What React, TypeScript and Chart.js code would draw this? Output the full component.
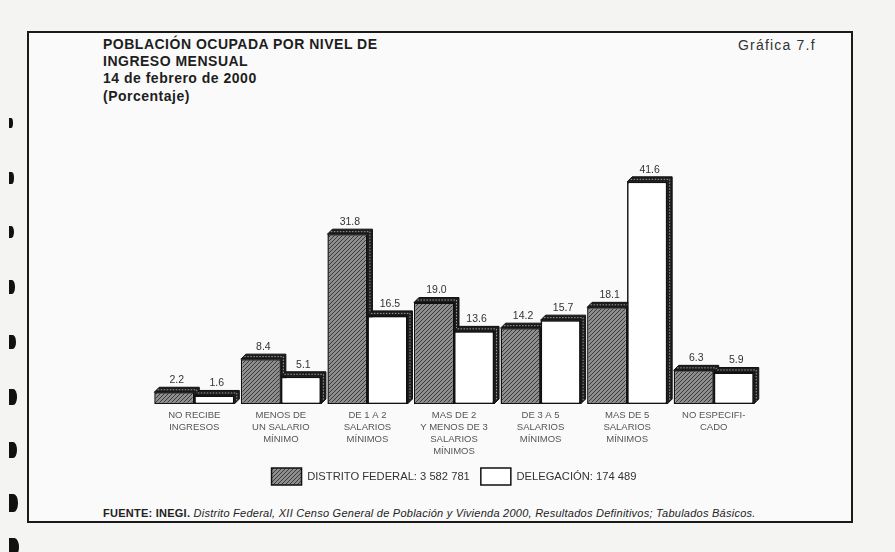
import React, { useEffect, useRef } from 'react';
import { Chart, registerables } from 'chart.js';

Chart.register(...registerables);

const categories: string[][] = [
  ['NO RECIBE', 'INGRESOS'],
  ['MENOS DE', 'UN SALARIO', 'MÍNIMO'],
  ['DE 1 A 2', 'SALARIOS', 'MÍNIMOS'],
  ['MAS DE 2', 'Y MENOS DE 3', 'SALARIOS', 'MÍNIMOS'],
  ['DE 3 A 5', 'SALARIOS', 'MÍNIMOS'],
  ['MAS DE 5', 'SALARIOS', 'MÍNIMOS'],
  ['NO ESPECIFI-', 'CADO'],
];
const distritoFederal = [2.2, 8.4, 31.8, 19.0, 14.2, 18.1, 6.3];
const delegacion = [1.6, 5.1, 16.5, 13.6, 15.7, 41.6, 5.9];
const seriesLabels = ['DISTRITO FEDERAL: 3 582 781', 'DELEGACIÓN: 174 489'];

const titleLines = ['POBLACIÓN OCUPADA POR NIVEL DE', 'INGRESO MENSUAL'];
const subtitleLines = ['14 de febrero de 2000', '(Porcentaje)'];
const holeYs = [123, 178, 232, 287, 342, 397, 450, 503, 547];

const FONT = '"Liberation Sans", Arial, Helvetica, sans-serif';
const DEPTH = 5;

function draw3D(ctx: CanvasRenderingContext2D, el: any) {
  const { x, y, base, width } = el.getProps(['x', 'y', 'base', 'width'], true);
  const l = x - width / 2;
  const r = x + width / 2;
  const t = Math.min(y, base);
  const b = Math.max(y, base);
  ctx.save();
  ctx.fillStyle = '#1c1c1c';
  ctx.strokeStyle = '#111';
  ctx.lineWidth = 1;
  ctx.beginPath();
  ctx.moveTo(l, t);
  ctx.lineTo(l + DEPTH, t - DEPTH);
  ctx.lineTo(r + DEPTH, t - DEPTH);
  ctx.lineTo(r + DEPTH, b - DEPTH);
  ctx.lineTo(r, b);
  ctx.lineTo(r, t);
  ctx.closePath();
  ctx.fill();
  ctx.stroke();
  ctx.strokeStyle = '#9c9c9c';
  ctx.setLineDash([1.5, 1.5]);
  ctx.beginPath();
  ctx.moveTo(l + DEPTH / 2 + 1, t - DEPTH / 2);
  ctx.lineTo(r + DEPTH / 2, t - DEPTH / 2);
  ctx.lineTo(r + DEPTH / 2, b - DEPTH / 2 - 1);
  ctx.stroke();
  ctx.restore();
}

const bar3dPlugin = {
  id: 'bar3d',
  afterDatasetsDraw(chart: any) {
    const ctx = chart.ctx as CanvasRenderingContext2D;
    const m0 = chart.getDatasetMeta(0);
    const m1 = chart.getDatasetMeta(1);
    for (let i = 0; i < m0.data.length; i++) {
      draw3D(ctx, m0.data[i]);
      m1.data[i].draw(ctx);
      draw3D(ctx, m1.data[i]);
    }
    ctx.save();
    ctx.fillStyle = '#333';
    ctx.font = `10.5px ${FONT}`;
    ctx.textAlign = 'center';
    ctx.textBaseline = 'middle';
    [m0, m1].forEach((meta: any, di: number) => {
      const vals = chart.data.datasets[di].data as number[];
      meta.data.forEach((el: any, i: number) => {
        const { x, y } = el.getProps(['x', 'y'], true);
        ctx.fillText(vals[i].toFixed(1), x + DEPTH / 2, y - 12);
      });
    });
    ctx.restore();
  },
};

function ChartBox() {
  const ref = useRef<HTMLCanvasElement>(null);
  useEffect(() => {
    const canvas = ref.current!;
    const ctx = canvas.getContext('2d')!;
    const pc = document.createElement('canvas');
    pc.width = 4;
    pc.height = 4;
    const p = pc.getContext('2d')!;
    p.fillStyle = '#8e8e8e';
    p.fillRect(0, 0, 4, 4);
    p.strokeStyle = '#3a3a3a';
    p.lineWidth = 1;
    p.beginPath();
    p.moveTo(-1, 5);
    p.lineTo(5, -1);
    p.moveTo(-1, 1);
    p.lineTo(1, -1);
    p.moveTo(3, 5);
    p.lineTo(5, 3);
    p.stroke();
    const pattern = ctx.createPattern(pc, 'repeat')!;

    const chart = new Chart(ctx, {
      type: 'bar',
      data: {
        labels: categories,
        datasets: [
          {
            label: seriesLabels[0],
            data: distritoFederal,
            backgroundColor: pattern as any,
            borderColor: '#111',
            borderWidth: 1.5,
            borderSkipped: false,
            barPercentage: 1,
            categoryPercentage: 0.925,
          },
          {
            label: seriesLabels[1],
            data: delegacion,
            backgroundColor: '#ffffff',
            borderColor: '#111',
            borderWidth: 1.5,
            borderSkipped: false,
            barPercentage: 1,
            categoryPercentage: 0.925,
          },
        ],
      },
      options: {
        animation: false,
        responsive: false,
        maintainAspectRatio: false,
        layout: { padding: { left: 51, right: 53, top: 19, bottom: 0 } },
        scales: {
          x: {
            grid: { display: false, drawTicks: false },
            border: { display: false },
            ticks: {
              color: '#555',
              font: { family: FONT, size: 9.5, lineHeight: 1.26 },
              padding: 5,
              maxRotation: 0,
              autoSkip: false,
            },
            afterFit: (scale: any) => {
              scale.height = 53;
            },
          },
          y: { display: false, min: 0, max: 44 },
        },
        plugins: {
          legend: {
            position: 'bottom',
            labels: {
              boxWidth: 30,
              boxHeight: 17,
              padding: 11,
              color: '#333',
              font: { family: FONT, size: 11.2 },
            },
          },
          tooltip: { enabled: false },
        },
      },
      plugins: [bar3dPlugin],
    });
    return () => chart.destroy();
  }, []);
  return (
    <canvas
      ref={ref}
      width={710}
      height={345}
      style={{ position: 'absolute', left: 100, top: 150, width: 710, height: 345 }}
    />
  );
}

export default function App() {
  return (
    <div
      style={{
        position: 'absolute',
        left: 0,
        top: 0,
        width: 895,
        height: 552,
        background: '#f4f4f3',
        overflow: 'hidden',
        fontFamily: FONT,
      }}
    >
      {holeYs.map((y, i) => {
        const w = 4 + i * 0.7;
        const h = 10 + i * 1.1;
        return (
          <div
            key={i}
            style={{
              position: 'absolute',
              left: 9,
              top: y - h / 2,
              width: w,
              height: h,
              background: '#111',
              borderRadius: '0 50% 50% 0 / 0 50% 50% 0',
            }}
          />
        );
      })}
      <div
        style={{
          position: 'absolute',
          left: 27,
          top: 31,
          width: 822,
          height: 488,
          border: '2px solid #1a1a1a',
          background: '#fafafa',
        }}
      />
      <div
        style={{
          position: 'absolute',
          left: 103,
          top: 36,
          color: '#1e1e1e',
          fontWeight: 'bold',
          fontSize: 14,
          letterSpacing: 0.5,
          lineHeight: '17.2px',
        }}
      >
        {titleLines.map((t) => (
          <div key={t}>{t}</div>
        ))}
        {subtitleLines.map((t) => (
          <div key={t}>{t}</div>
        ))}
      </div>
      <div
        style={{
          position: 'absolute',
          left: 738,
          top: 37,
          fontSize: 14,
          letterSpacing: 1.2,
          color: '#333',
        }}
      >
        Gráfica 7.f
      </div>
      <ChartBox />
      <div
        style={{
          position: 'absolute',
          left: 103,
          top: 507,
          fontSize: 11,
          letterSpacing: 0.25,
          color: '#222',
          whiteSpace: 'nowrap',
        }}
      >
        <b>FUENTE: INEGI.</b>{' '}
        <i>
          Distrito Federal, XII Censo General de Población y Vivienda 2000, Resultados Definitivos;
          Tabulados Básicos.
        </i>
      </div>
    </div>
  );
}
